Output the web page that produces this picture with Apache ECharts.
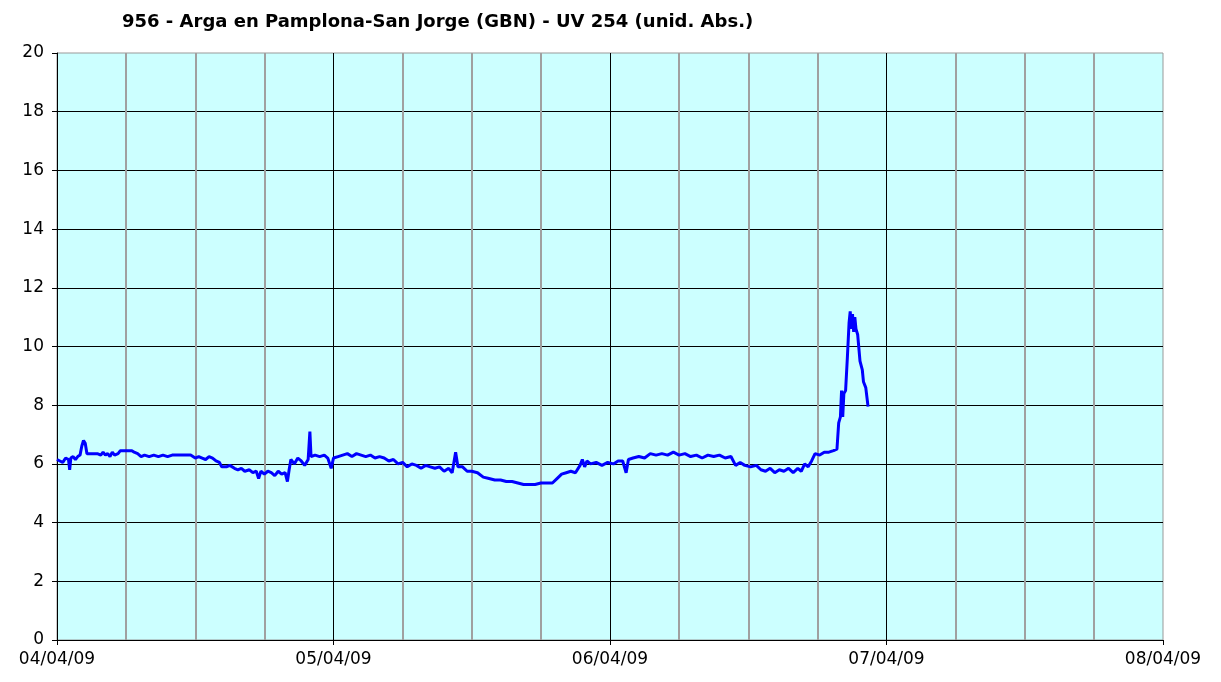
<!DOCTYPE html>
<html>
<head>
<meta charset="utf-8">
<script src="https://cdn.jsdelivr.net/npm/echarts@6/dist/echarts.min.js"></script>
<style>
html,body{margin:0;padding:0;background:#fff;}
#chart{width:1221px;height:682px;}
</style>
</head>
<body>
<div id="chart"></div>
<script>
// Hours elapsed since 04/04/09 00:00
const hours = [0,0.25,0.5,0.75,1.0,1.1,1.2,1.4,1.6,1.8,2.0,2.15,2.3,2.45,2.6,3.0,3.5,3.8,4.0,4.2,4.4,4.6,4.8,5.0,5.3,5.5,6.0,6.5,6.7,7.0,7.3,7.6,8.0,8.4,8.8,9.2,9.6,10.0,10.4,10.8,11.2,11.6,12.0,12.3,12.6,12.9,13.2,13.5,13.8,14.1,14.3,14.7,15.0,15.4,15.7,16.0,16.3,16.7,17.0,17.3,17.5,17.7,18.0,18.3,18.6,18.9,19.2,19.5,19.8,20.0,20.15,20.3,20.6,20.9,21.2,21.5,21.8,21.95,22.05,22.4,22.8,23.2,23.5,23.8,24.0,24.4,24.8,25.2,25.6,26.0,26.4,26.8,27.2,27.6,28.0,28.4,28.8,29.2,29.6,30.0,30.4,30.8,31.2,31.6,32.0,32.4,32.8,33.2,33.6,34.0,34.3,34.6,34.8,35.2,35.6,36.0,36.5,37.0,37.5,38.0,38.5,39.0,39.5,40.0,40.5,41.0,41.5,42.0,42.5,43.0,43.4,43.8,44.2,44.6,45.0,45.4,45.6,45.8,46.0,46.3,46.8,47.3,47.8,48.3,48.7,49.1,49.4,49.6,50.0,50.5,51.0,51.5,52.0,52.5,53.0,53.5,54.0,54.5,55.0,55.5,56.0,56.5,57.0,57.5,58.0,58.5,58.9,59.3,59.7,60.2,60.7,61.1,61.5,61.9,62.3,62.7,63.1,63.5,63.9,64.3,64.6,64.9,65.2,65.5,65.8,66.2,66.6,67.0,67.4,67.7,67.85,68.0,68.1,68.2,68.3,68.45,68.6,68.75,68.85,68.95,69.05,69.15,69.25,69.35,69.5,69.7,69.9,70.0,70.2,70.35,70.4];
// UV 254 absorbance (unid. Abs.)
const uv = [6.15,6.1,6.05,6.2,6.15,5.8,6.2,6.25,6.15,6.25,6.3,6.6,6.8,6.7,6.35,6.35,6.35,6.3,6.4,6.3,6.35,6.25,6.4,6.3,6.35,6.45,6.45,6.45,6.4,6.35,6.25,6.3,6.25,6.3,6.25,6.3,6.25,6.3,6.3,6.3,6.3,6.3,6.2,6.25,6.2,6.15,6.25,6.2,6.1,6.05,5.9,5.9,5.95,5.85,5.8,5.85,5.75,5.8,5.7,5.75,5.5,5.75,5.65,5.75,5.7,5.6,5.75,5.65,5.7,5.4,5.8,6.15,6.0,6.2,6.1,5.95,6.15,7.1,6.25,6.3,6.25,6.3,6.2,5.85,6.2,6.25,6.3,6.35,6.25,6.35,6.3,6.25,6.3,6.2,6.25,6.2,6.1,6.15,6.0,6.05,5.9,6.0,5.95,5.85,5.95,5.9,5.85,5.9,5.75,5.85,5.7,6.4,5.9,5.9,5.75,5.75,5.7,5.55,5.5,5.45,5.45,5.4,5.4,5.35,5.3,5.3,5.3,5.35,5.35,5.35,5.5,5.65,5.7,5.75,5.7,5.95,6.15,5.9,6.1,6.0,6.05,5.95,6.05,6.0,6.1,6.1,5.7,6.15,6.2,6.25,6.2,6.35,6.3,6.35,6.3,6.4,6.3,6.35,6.25,6.3,6.2,6.3,6.25,6.3,6.2,6.25,5.95,6.05,5.95,5.9,5.95,5.8,5.75,5.85,5.7,5.8,5.75,5.85,5.7,5.85,5.75,6.0,5.9,6.1,6.35,6.3,6.4,6.4,6.45,6.5,7.4,7.6,8.5,7.6,8.4,8.5,9.6,10.8,11.2,10.6,11.1,10.5,11.0,10.6,10.4,9.5,9.2,8.8,8.6,8.6,7.95];
const dayLabels = ['04/04/09','05/04/09','06/04/09','07/04/09','08/04/09'];
const titleText = '956 - Arga en Pamplona-San Jorge (GBN) - UV 254 (unid. Abs.)';

const points = hours.map((h, i) => [h, uv[i]]);
const chart = echarts.init(document.getElementById('chart'), null, {renderer: 'canvas'});
const font = 'DejaVu Sans';
chart.setOption({
  animation: false,
  backgroundColor: '#ffffff',
  title: {
    text: titleText,
    left: 117, top: 8,
    textStyle: {fontFamily: font, fontSize: 18, fontWeight: 'bold', color: '#000'}
  },
  grid: {
    left: 57, top: 53, right: 58, bottom: 42,
    show: true, backgroundColor: '#CCFFFF', borderColor: '#999999', borderWidth: 1
  },
  xAxis: {
    type: 'value', min: 0, max: 96, interval: 24,
    axisLine: {show: true, onZero: false, lineStyle: {color: '#000', width: 1}},
    axisTick: {show: true, length: 5, lineStyle: {color: '#000'}},
    axisLabel: {
      margin: 11, fontFamily: font, fontSize: 17, color: '#000',
      formatter: v => dayLabels[Math.round(v / 24)] || ''
    },
    splitLine: {show: true, showMaxLine: false, showMinLine: false, lineStyle: {color: '#000', width: 1}},
    minorTick: {show: false, splitNumber: 4},
    minorSplitLine: {show: true, lineStyle: {color: '#A0A0A0', width: 2}}
  },
  yAxis: {
    type: 'value', min: 0, max: 20, interval: 2,
    axisLine: {show: true, lineStyle: {color: '#000', width: 1}},
    axisTick: {show: true, length: 5, lineStyle: {color: '#000'}},
    axisLabel: {margin: 13, fontFamily: font, fontSize: 17, color: '#000'},
    splitLine: {show: true, showMaxLine: false, showMinLine: false, lineStyle: {color: '#000', width: 1}}
  },
  series: [{
    type: 'line', data: points, showSymbol: false, symbol: 'none',
    lineStyle: {color: '#0000FF', width: 3}, z: 5
  }]
});
</script>
</body>
</html>
